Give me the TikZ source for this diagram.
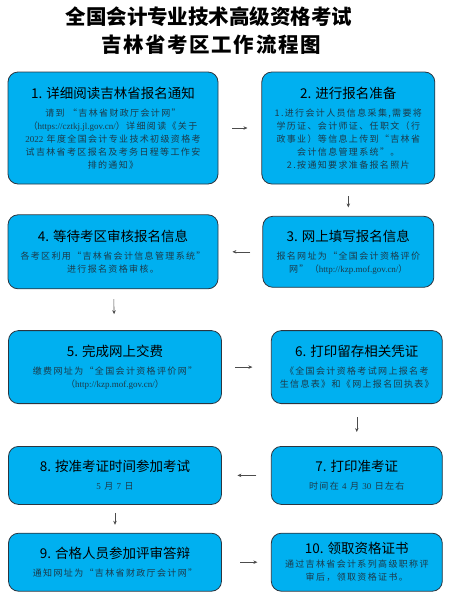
\documentclass[tikz,border=0pt]{standalone}
\usepackage{fontspec}
\usepackage{xcolor}
\setmainfont{Noto Sans CJK SC}
\newfontfamily\notefont[LetterSpace=15]{Noto Sans CJK SC}
\newfontfamily\subtitlefont[LetterSpace=8]{Noto Sans CJK SC}
\newfontfamily\webfont{Liberation Serif}
\usetikzlibrary{arrows.meta,positioning}
\definecolor{stagefill}{HTML}{00B0F0}
\definecolor{stageline}{HTML}{2B3540}
\definecolor{notetext}{HTML}{1C3A4A}
\newcommand{\titletext}{\normalfont\fontsize{20.5}{28}\selectfont\bfseries}
\newcommand{\headtext}{\normalfont\fontsize{13.5}{17}\selectfont\color{black}}
\newcommand{\notetxt}{\notefont\fontsize{9}{13}\selectfont\color{notetext}}
\newcommand{\webtxt}[1]{{\webfont #1}}

\begin{document}
\begin{tikzpicture}[
  x=1pt, y=1pt,
  every node/.style={font=\notetxt},
  stage/.style={rectangle, rounded corners=10pt, draw=stageline, line width=0.8pt,
    fill=stagefill, align=center, inner sep=3pt},
  flow/.style={-{Stealth[length=4pt,width=3.5pt]}, line width=0.6pt, draw=black!70},
]
\useasboundingbox (0,0) rectangle (449,-603);

% Title
\node[font=\titletext, text=black, inner sep=0pt] (title) at (209,-17) {全国会计专业技术高级资格考试};
\node[font={\subtitlefont\fontsize{20.5}{28}\selectfont\bfseries}, text=black, inner sep=0pt,
  below=8pt of title, xshift=2pt] (subtitle) {吉林省考区工作流程图};

% Left column
\node[stage, minimum width=210pt, minimum height=112pt] (s1) at (113,-128)
  {{\headtext 1. 详细阅读吉林省报名通知}\\[5pt]
   请到 “吉林省财政厅会计网”\\
   （\webtxt{https://cztkj.jl.gov.cn/}）详细阅读《关于\\
   \webtxt{2022} 年度全国会计专业技术初级资格考\\
   试吉林省考区报名及考务日程等工作安\\
   排的通知》};
\node[stage, minimum width=210pt, minimum height=74pt, below=30pt of s1] (s4)
  {{\headtext 4. 等待考区审核报名信息}\\[5pt]
   各考区利用“吉林省会计信息管理系统”\\
   进行报名资格审核。};
\node[stage, minimum width=213pt, minimum height=73pt, below=41pt of s4, xshift=2pt] (s5)
  {{\headtext 5. 完成网上交费}\\[5pt]
   缴费网址为“全国会计资格评价网”\\
   （\webtxt{http://kzp.mof.gov.cn/}）};
\node[stage, minimum width=213pt, minimum height=58pt, below=42pt of s5] (s8)
  {{\headtext 8. 按准考证时间参加考试}\\[5pt]
   \webtxt{5} 月 \webtxt{7} 日};
\node[stage, minimum width=213pt, minimum height=58pt, below=28pt of s8] (s9)
  {{\headtext 9. 合格人员参加评审答辩}\\[5pt]
   通知网址为“吉林省财政厅会计网”};

% Right column
\node[stage, minimum width=173pt, minimum height=112pt, right=43pt of s1] (s2)
  {{\headtext 2. 进行报名准备}\\[5pt]
   1.进行会计人员信息采集,需要将\\
   学历证、会计师证、任职文（行\\
   政事业）等信息上传到“吉林省\\
   会计信息管理系统”。\\
   2.按通知要求准备报名照片};
\node[stage, minimum width=171pt, minimum height=71pt, right=44pt of s4] (s3)
  {{\headtext 3. 网上填写报名信息}\\[5pt]
   报名网址为“全国会计资格评价\\
   网”（\webtxt{http://kzp.mof.gov.cn/}）};
\node[stage, minimum width=171pt, minimum height=73pt, right=49pt of s5] (s6)
  {{\headtext 6. 打印留存相关凭证}\\[5pt]
   《全国会计资格考试网上报名考\\
   生信息表》和《网上报名回执表》};
\node[stage, minimum width=171pt, minimum height=58pt, right=49pt of s8] (s7)
  {{\headtext 7. 打印准考证}\\[5pt]
   时间在 \webtxt{4} 月 \webtxt{30} 日左右};
\node[stage, minimum width=171pt, minimum height=58pt, right=49pt of s9] (s10)
  {{\headtext 10. 领取资格证书}\\[1pt]
   通过吉林省会计系列高级职称评\\
   审后，领取资格证书。};

% Arrows
\draw[flow, shorten <=14pt, shorten >=14pt] (s1) -- (s2);
\draw[flow, shorten <=12pt, shorten >=8.5pt] (s2) -- (s3);
\draw[flow, shorten <=12pt, shorten >=14pt] (s3) -- (s4);
\draw[flow, shorten <=10pt, shorten >=16pt] (s4) -- (s5);
\draw[flow, shorten <=13.5pt, shorten >=18.5pt] (s5) -- (s6);
\draw[flow, shorten <=13pt, shorten >=14pt] (s6) -- (s7);
\draw[flow, shorten <=14.5pt, shorten >=15.5pt] (s7) -- (s8);
\draw[flow, shorten <=8pt, shorten >=8pt] (s8) -- (s9);
\draw[flow, shorten <=18.5pt, shorten >=13.5pt] (s9) -- (s10);
\end{tikzpicture}
\end{document}
